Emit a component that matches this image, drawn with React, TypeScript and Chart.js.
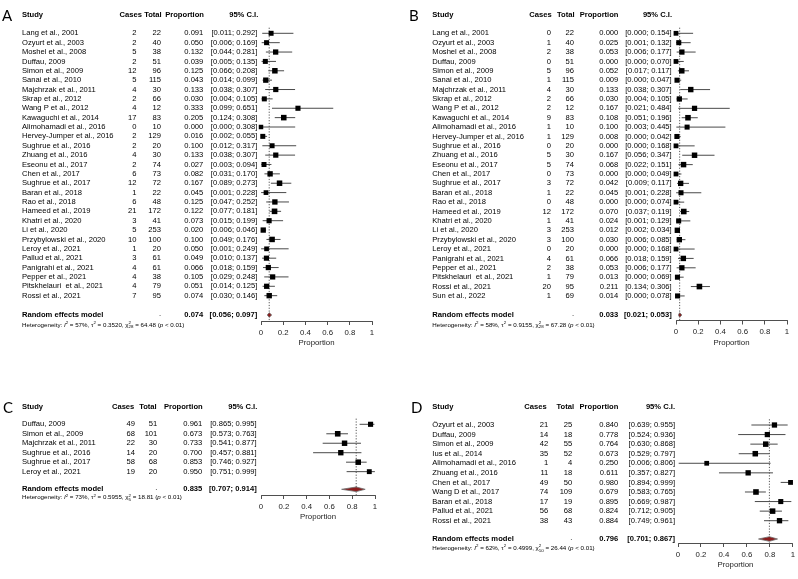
import { useEffect, useRef } from "react";
import { Chart, registerables } from "chart.js";

Chart.register(...registerables);

const FONT = "'Liberation Sans', Arial, sans-serif";
const LETTER_FONT = "Lato, 'Liberation Sans', sans-serif";

// ---------------- Panel A ----------------
const studiesA = [
  "Lang et al., 2001", "Ozyurt et al., 2003", "Moshel et al., 2008", "Duffau, 2009", "Simon et al., 2009",
  "Sanai et al., 2010", "Majchrzak et al., 2011", "Skrap et al., 2012", "Wang P et al., 2012", "Kawaguchi et al., 2014",
  "Alimohamadi et al., 2016", "Hervey-Jumper et al., 2016", "Sughrue et al., 2016", "Zhuang et al., 2016", "Eseonu et al., 2017",
  "Chen et al., 2017", "Sughrue et al., 2017", "Baran et al., 2018", "Rao et al., 2018", "Hameed et al., 2019",
  "Khatri et al., 2020", "Li et al., 2020", "Przybylowski et al., 2020", "Leroy et al., 2021", "Pallud et al., 2021",
  "Panigrahi et al., 2021", "Pepper et al., 2021", "Pitskhelauri  et al., 2021", "Rossi et al., 2021",
];
const casesA = [2, 2, 5, 2, 12, 5, 4, 2, 4, 17, 0, 2, 2, 4, 2, 6, 12, 1, 6, 21, 3, 5, 10, 1, 3, 4, 4, 4, 7];
const totalsA = [22, 40, 38, 51, 96, 115, 30, 66, 12, 83, 10, 129, 20, 30, 74, 73, 72, 22, 48, 172, 41, 253, 100, 20, 61, 61, 38, 79, 95];
const propA = [0.091, 0.05, 0.132, 0.039, 0.125, 0.043, 0.133, 0.03, 0.333, 0.205, 0.0, 0.016, 0.1, 0.133, 0.027, 0.082, 0.167, 0.045, 0.125, 0.122, 0.073, 0.02, 0.1, 0.05, 0.049, 0.066, 0.105, 0.051, 0.074];
const lowA = [0.011, 0.006, 0.044, 0.005, 0.066, 0.014, 0.038, 0.004, 0.099, 0.124, 0.0, 0.002, 0.012, 0.038, 0.003, 0.031, 0.089, 0.001, 0.047, 0.077, 0.015, 0.006, 0.049, 0.001, 0.01, 0.018, 0.029, 0.014, 0.03];
const highA = [0.292, 0.169, 0.281, 0.135, 0.208, 0.099, 0.307, 0.105, 0.651, 0.308, 0.308, 0.055, 0.317, 0.307, 0.094, 0.17, 0.273, 0.228, 0.252, 0.181, 0.199, 0.046, 0.176, 0.249, 0.137, 0.159, 0.248, 0.125, 0.146];
const pooledA = [0.074, 0.056, 0.097];
const hetA = [57, 0.352, 28, 64.48];

// ---------------- Panel B ----------------
const studiesB = [
  "Lang et al., 2001", "Ozyurt et al., 2003", "Moshel et al., 2008", "Duffau, 2009", "Simon et al., 2009",
  "Sanai et al., 2010", "Majchrzak et al., 2011", "Skrap et al., 2012", "Wang P et al., 2012", "Kawaguchi et al., 2014",
  "Alimohamadi et al., 2016", "Hervey-Jumper et al., 2016", "Sughrue et al., 2016", "Zhuang et al., 2016", "Eseonu et al., 2017",
  "Chen et al., 2017", "Sughrue et al., 2017", "Baran et al., 2018", "Rao et al., 2018", "Hameed et al., 2019",
  "Khatri et al., 2020", "Li et al., 2020", "Przybylowski et al., 2020", "Leroy et al., 2021", "Panigrahi et al., 2021",
  "Pepper et al., 2021", "Pitskhelauri  et al., 2021", "Rossi et al., 2021", "Sun et al., 2022",
];
const casesB = [0, 1, 2, 0, 5, 1, 4, 2, 2, 9, 1, 1, 0, 5, 5, 0, 3, 1, 0, 12, 1, 3, 3, 0, 4, 2, 1, 20, 1];
const totalsB = [22, 40, 38, 51, 96, 115, 30, 66, 12, 83, 10, 129, 20, 30, 74, 73, 72, 22, 48, 172, 41, 253, 100, 20, 61, 38, 79, 95, 69];
const propB = [0.0, 0.025, 0.053, 0.0, 0.052, 0.009, 0.133, 0.03, 0.167, 0.108, 0.1, 0.008, 0.0, 0.167, 0.068, 0.0, 0.042, 0.045, 0.0, 0.07, 0.024, 0.012, 0.03, 0.0, 0.066, 0.053, 0.013, 0.211, 0.014];
const lowB = [0.0, 0.001, 0.006, 0.0, 0.017, 0.0, 0.038, 0.004, 0.021, 0.051, 0.003, 0.0, 0.0, 0.056, 0.022, 0.0, 0.009, 0.001, 0.0, 0.037, 0.001, 0.002, 0.006, 0.0, 0.018, 0.006, 0.0, 0.134, 0.0];
const highB = [0.154, 0.132, 0.177, 0.07, 0.117, 0.047, 0.307, 0.105, 0.484, 0.196, 0.445, 0.042, 0.168, 0.347, 0.151, 0.049, 0.117, 0.228, 0.074, 0.119, 0.129, 0.034, 0.085, 0.168, 0.159, 0.177, 0.069, 0.306, 0.078];
const pooledB = [0.033, 0.021, 0.053];
const hetB = [58, 0.9155, 28, 67.28];

// ---------------- Panel C ----------------
const studiesC = ["Duffau, 2009", "Simon et al., 2009", "Majchrzak et al., 2011", "Sughrue et al., 2016", "Sughrue et al., 2017", "Leroy et al., 2021"];
const casesC = [49, 68, 22, 14, 58, 19];
const totalsC = [51, 101, 30, 20, 68, 20];
const propC = [0.961, 0.673, 0.733, 0.7, 0.853, 0.95];
const lowC = [0.865, 0.573, 0.541, 0.457, 0.746, 0.751];
const highC = [0.995, 0.763, 0.877, 0.881, 0.927, 0.999];
const pooledC = [0.835, 0.707, 0.914];
const hetC = [73, 0.5955, 5, 18.81];

// ---------------- Panel D ----------------
const studiesD = [
  "Özyurt et al., 2003", "Duffau, 2009", "Simon et al., 2009", "Ius et al., 2014", "Alimohamadi et al., 2016",
  "Zhuang et al., 2016", "Chen et al., 2017", "Wang D et al., 2017", "Baran et al., 2018", "Pallud et al., 2021", "Rossi et al., 2021",
];
const casesD = [21, 14, 42, 35, 1, 11, 49, 74, 17, 56, 38];
const totalsD = [25, 18, 55, 52, 4, 18, 50, 109, 19, 68, 43];
const propD = [0.84, 0.778, 0.764, 0.673, 0.25, 0.611, 0.98, 0.679, 0.895, 0.824, 0.884];
const lowD = [0.639, 0.524, 0.63, 0.529, 0.006, 0.357, 0.894, 0.583, 0.669, 0.712, 0.749];
const highD = [0.955, 0.936, 0.868, 0.797, 0.806, 0.827, 0.999, 0.765, 0.987, 0.905, 0.961];
const pooledD = [0.796, 0.701, 0.867];
const hetD = [62, 0.4999, 10, 26.44];

// ---------------- shared labels ----------------
const xTickValues = [0, 0.2, 0.4, 0.6, 0.8, 1];
const columnHeaders = ["Study", "Cases", "Total", "Proportion", "95% C.I."];
const axisTitle = "Proportion";
const pooledLabel = "Random effects model";

type PanelData = {
  letter: string; studies: string[]; cases: number[]; totals: number[];
  prop: number[]; low: number[]; high: number[]; pooled: number[]; het: number[];
};
type Geom = {
  left: number; top: number; width: number; height: number;
  letterX: number; letterY: number; studyX: number;
  casesX: number; totalX: number; propX: number; ciX: number;
  hCasesX: number; hTotalX: number; hPropX: number; hCiX: number;
  headerY: number; row0: number; rowH: number; reY: number; hetY: number; axisY: number;
  x0: number; x1: number;
};

const panels: { d: PanelData; g: Geom }[] = [
  {
    d: { letter: "A", studies: studiesA, cases: casesA, totals: totalsA, prop: propA, low: lowA, high: highA, pooled: pooledA, het: hetA },
    g: { left: 0, top: 0, width: 400, height: 360, letterX: 2, letterY: 16, studyX: 22,
      casesX: 136.5, totalX: 161, propX: 203.3, ciX: 257.3, hCasesX: 142, hTotalX: 161.7, hPropX: 204, hCiX: 258.3,
      headerY: 15, row0: 33.3, rowH: 9.37, reY: 315, hetY: 325, axisY: 321, x0: 261, x1: 372 },
  },
  {
    d: { letter: "B", studies: studiesB, cases: casesB, totals: totalsB, prop: propB, low: lowB, high: highB, pooled: pooledB, het: hetB },
    g: { left: 400, top: 0, width: 398, height: 360, letterX: 409, letterY: 16, studyX: 432.3,
      casesX: 551, totalX: 574, propX: 618.3, ciX: 671.7, hCasesX: 551.7, hTotalX: 574.5, hPropX: 618.5, hCiX: 672,
      headerY: 15, row0: 33.3, rowH: 9.38, reY: 315, hetY: 325, axisY: 320.5, x0: 676, x1: 787 },
  },
  {
    d: { letter: "C", studies: studiesC, cases: casesC, totals: totalsC, prop: propC, low: lowC, high: highC, pooled: pooledC, het: hetC },
    g: { left: 0, top: 360, width: 400, height: 219, letterX: 3, letterY: 408.5, studyX: 22,
      casesX: 135, totalX: 157.3, propX: 202.3, ciX: 256.7, hCasesX: 134.3, hTotalX: 156.7, hPropX: 202.7, hCiX: 257.3,
      headerY: 406.7, row0: 424.3, rowH: 9.47, reY: 489.3, hetY: 497.7, axisY: 495, x0: 261, x1: 375 },
  },
  {
    d: { letter: "D", studies: studiesD, cases: casesD, totals: totalsD, prop: propD, low: lowD, high: highD, pooled: pooledD, het: hetD },
    g: { left: 400, top: 360, width: 398, height: 219, letterX: 411, letterY: 408.5, studyX: 432.3,
      casesX: 548.3, totalX: 572.3, propX: 618.3, ciX: 675, hCasesX: 546.7, hTotalX: 574, hPropX: 618.3, hCiX: 675,
      headerY: 406.7, row0: 425, rowH: 9.57, reY: 539, hetY: 548.3, axisY: 543, x0: 678, x1: 794 },
  },
];

const FS = 7.6;
const AXIS_H = 27;

function squareRadii(cases: number[], totals: number[], tau2: number) {
  const w = cases.map((e, i) => {
    const n = totals[i];
    const v = e === 0 || e === n ? 1 / (e + 0.5) + 1 / (n - e + 0.5) : 1 / e + 1 / (n - e);
    return 1 / (v + tau2);
  });
  const wmax = Math.max(...w);
  return w.map((wi) => (3.7 + 1.9 * Math.sqrt(wi / wmax)) / Math.SQRT2);
}

function drawHet(ctx: CanvasRenderingContext2D, x: number, y: number, het: number[]) {
  const [i2, tau2, df, q] = het;
  const fs = 6.2;
  const ss = 4.4;
  let cx = x;
  ctx.textAlign = "left";
  const put = (t: string, size: number, dy: number, style: string) => {
    ctx.font = `${style}${size}px ${FONT}`;
    ctx.fillText(t, cx, y + dy);
    return ctx.measureText(t).width;
  };
  const run = (t: string, style = "") => { cx += put(t, fs, 0, style); };
  const sup = (t: string) => { cx += put(t, ss, -2.2, ""); };
  run("Heterogeneity: ");
  run("I", "italic ");
  sup("2");
  run(` = ${i2}%, `);
  run("τ");
  sup("2");
  run(` = ${tau2.toFixed(4)}, `);
  run("χ");
  const w1 = put("2", ss, -2.2, "");
  const w2 = put(String(df), ss, 2.2, "");
  cx += Math.max(w1, w2);
  run(` = ${q.toFixed(2)} (`);
  run("p", "italic ");
  run(" < 0.01)");
}

function makeChart(canvas: HTMLCanvasElement, d: PanelData, g: Geom) {
  const yMin = -0.6;
  const yMax = (g.axisY - g.row0) / g.rowH;
  const topY = g.row0 + yMin * g.rowH;
  const reVal = (g.reY - g.row0) / g.rowH;
  const dh = 2.3 / g.rowH;

  const ciData: { x: number | null; y: number | null }[] = [];
  d.low.forEach((lo, i) => {
    ciData.push({ x: lo, y: i }, { x: d.high[i], y: i }, { x: null, y: null });
  });
  const squares = d.prop.map((p, i) => ({ x: p, y: i }));
  const radii = squareRadii(d.cases, d.totals, d.het[1]);
  const [est, plo, phi] = d.pooled;
  const upper = [{ x: plo, y: reVal }, { x: est, y: reVal - dh }, { x: phi, y: reVal }];
  const lower = [{ x: plo, y: reVal }, { x: est, y: reVal + dh }, { x: phi, y: reVal }];
  const refLine = [{ x: est, y: yMin }, { x: est, y: yMax }];

  const textPlugin = {
    id: "forestText",
    afterDraw(chart: any) {
      const ctx: CanvasRenderingContext2D = chart.ctx;
      const ys = chart.scales.y;
      const ox = g.left;
      const oy = g.top;
      ctx.save();
      ctx.fillStyle = "#000";
      ctx.textBaseline = "middle";
      // panel letter
      ctx.textAlign = "left";
      ctx.font = `15px ${LETTER_FONT}`;
      ctx.fillText(d.letter, g.letterX - ox, g.letterY - oy);
      // headers
      ctx.font = `bold ${FS}px ${FONT}`;
      ctx.fillText(columnHeaders[0], g.studyX - ox, g.headerY - oy);
      ctx.textAlign = "right";
      ctx.fillText(columnHeaders[1], g.hCasesX - ox, g.headerY - oy);
      ctx.fillText(columnHeaders[2], g.hTotalX - ox, g.headerY - oy);
      ctx.fillText(columnHeaders[3], g.hPropX - ox, g.headerY - oy);
      ctx.fillText(columnHeaders[4], g.hCiX - ox, g.headerY - oy);
      // study rows
      ctx.font = `${FS}px ${FONT}`;
      d.studies.forEach((s, i) => {
        const y = ys.getPixelForValue(i);
        ctx.textAlign = "left";
        ctx.fillText(s, g.studyX - ox, y);
        ctx.textAlign = "right";
        ctx.fillText(String(d.cases[i]), g.casesX - ox, y);
        ctx.fillText(String(d.totals[i]), g.totalX - ox, y);
        ctx.fillText(d.prop[i].toFixed(3), g.propX - ox, y);
        ctx.fillText(`[${d.low[i].toFixed(3)}; ${d.high[i].toFixed(3)}]`, g.ciX - ox, y);
      });
      // pooled row
      const yr = ys.getPixelForValue(reVal);
      ctx.font = `bold ${FS}px ${FONT}`;
      ctx.textAlign = "left";
      ctx.fillText(pooledLabel, g.studyX - ox, yr);
      ctx.textAlign = "right";
      ctx.fillText(est.toFixed(3), g.propX - ox, yr);
      ctx.fillText(`[${plo.toFixed(3)}; ${phi.toFixed(3)}]`, g.ciX - ox, yr);
      ctx.font = `${FS}px ${FONT}`;
      ctx.fillText(".", g.totalX - ox, yr - 1);
      // heterogeneity
      drawHet(ctx, g.studyX - ox, g.hetY - oy, d.het);
      ctx.restore();
    },
  };

  return new Chart(canvas, {
    type: "scatter",
    data: {
      datasets: [
        {
          type: "scatter", data: squares, pointStyle: "rect", pointRadius: radii,
          backgroundColor: "#000", borderWidth: 0, clip: false,
        } as any,
        {
          type: "line", data: upper, showLine: true, borderColor: "#707070", borderWidth: 0.8,
          pointRadius: 0, fill: false, clip: false,
        } as any,
        {
          type: "line", data: lower, showLine: true, borderColor: "#707070", borderWidth: 0.8,
          pointRadius: 0, fill: 1, backgroundColor: "#8b1c1c", clip: false,
        } as any,
        {
          type: "line", data: ciData, showLine: true, borderColor: "#4a4a4a", borderWidth: 1,
          pointRadius: 0, spanGaps: false, fill: false, clip: false,
        } as any,
        {
          type: "line", data: refLine, showLine: true, borderColor: "#444", borderWidth: 0.9,
          borderDash: [1.2, 1.6], pointRadius: 0, fill: false, clip: false,
        } as any,
      ],
    },
    options: {
      responsive: true,
      maintainAspectRatio: false,
      animation: false,
      events: [],
      layout: {
        padding: {
          left: g.x0 - g.left,
          right: g.left + g.width - g.x1,
          top: topY - g.top,
          bottom: g.top + g.height - g.axisY - AXIS_H,
        },
      },
      plugins: { legend: { display: false }, tooltip: { enabled: false }, title: { display: false } },
      scales: {
        x: {
          type: "linear", min: 0, max: 1, position: "bottom",
          afterBuildTicks: (s: any) => { s.ticks = xTickValues.map((v) => ({ value: v })); },
          afterFit: (s: any) => { s.height = AXIS_H; },
          grid: { drawOnChartArea: false, drawTicks: true, tickLength: 4, color: "#222", lineWidth: 0.8 },
          border: { display: true, color: "#222", width: 0.8 },
          ticks: {
            autoSkip: false, maxRotation: 0, padding: 3, color: "#222",
            font: { family: FONT, size: 7.8 }, callback: (v: any) => String(v),
          },
          title: { display: true, text: axisTitle, color: "#222", font: { family: FONT, size: 7.8 }, padding: { top: 0, bottom: 0 } },
        } as any,
        y: { type: "linear", display: false, reverse: true, min: yMin, max: yMax },
      },
    } as any,
    plugins: [textPlugin],
  });
}

function Panel({ d, g }: { d: PanelData; g: Geom }) {
  const ref = useRef<HTMLCanvasElement>(null);
  useEffect(() => {
    const chart = makeChart(ref.current as HTMLCanvasElement, d, g);
    return () => chart.destroy();
  }, []);
  return (
    <div style={{ position: "absolute", left: g.left, top: g.top, width: g.width, height: g.height }}>
      <canvas ref={ref} style={{ display: "block" }} />
    </div>
  );
}

export default function App() {
  return (
    <div style={{ position: "absolute", left: 0, top: 0, width: 798, height: 579, background: "#fff", overflow: "hidden" }}>
      {panels.map((p) => (
        <Panel key={p.d.letter} d={p.d} g={p.g} />
      ))}
    </div>
  );
}
